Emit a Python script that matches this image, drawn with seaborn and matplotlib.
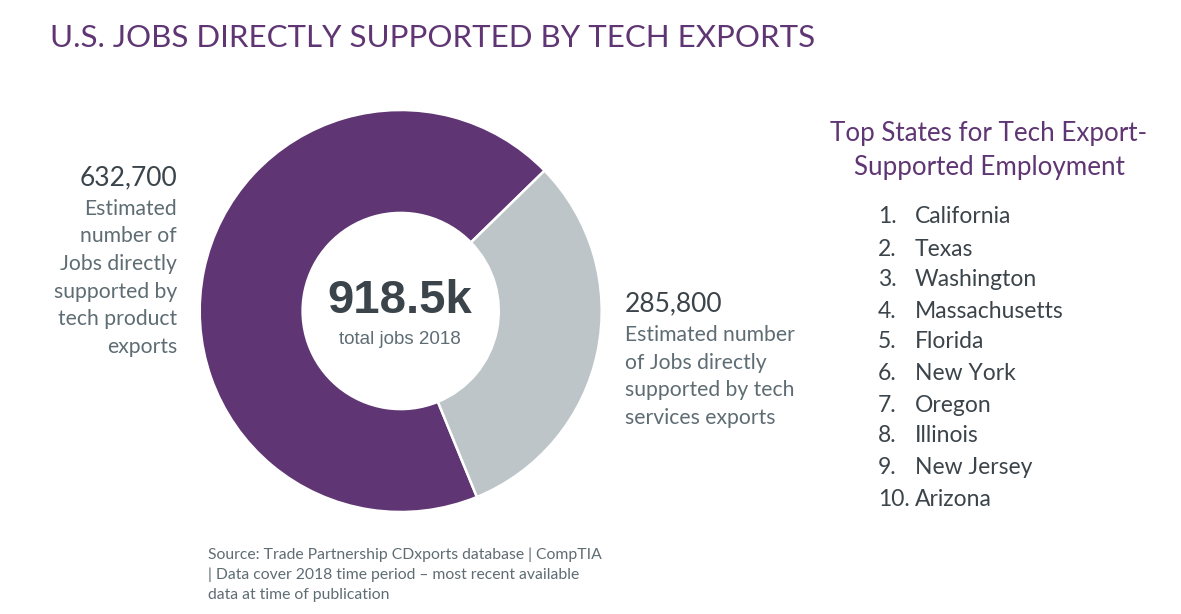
# plot.py

import matplotlib
matplotlib.use('Agg')
import matplotlib.pyplot as plt
import seaborn as sns

segments = ['Tech product exports', 'Tech services exports']
jobs = [632700, 285800]
states = ['California', 'Texas', 'Washington', 'Massachusetts', 'Florida',
          'New York', 'Oregon', 'Illinois', 'New Jersey', 'Arizona']
product_lines = ['Estimated', 'number of', 'Jobs directly', 'supported by', 'tech product', 'exports']
service_lines = ['Estimated number', 'of Jobs directly', 'supported by tech', 'services exports']
source_lines = ['Source: Trade Partnership CDxports database | CompTIA',
                '| Data cover 2018 time period – most recent available',
                'data at time of publication']

W, H = 1181, 614
PURPLE = '#5F3673'
GREY = '#BDC5C8'
DARK = '#3B444A'
MID = '#5E6C73'

sns.set_theme(style='white')
plt.rcParams['font.family'] = ['Lato', 'DejaVu Sans']

fig = plt.figure(figsize=(W / 100, H / 100), dpi=100)


def put(x, y, s, size, color=MID, ha='left', **kw):
    # x, y in pixels from the top left corner
    fig.text(x / W, 1 - y / H, s, fontsize=size, color=color, ha=ha, va='center', **kw)


# donut
cx, cy, r = 400.7, 311, 201
ax = fig.add_axes([(cx - r) / W, 1 - (cy + r) / H, 2 * r / W, 2 * r / H])
ax.pie(jobs, colors=[PURPLE, GREY], startangle=44.3, radius=1,
       wedgeprops={'width': 0.512, 'edgecolor': 'white', 'linewidth': 1.8})
ax.set_xlim(-1, 1)
ax.set_ylim(-1, 1)

put(50, 38, 'U.S. JOBS DIRECTLY SUPPORTED BY TECH EXPORTS', 22.5, color=PURPLE)

put(400, 301, '918.5k', 34, color=DARK, ha='center', family='Liberation Sans', weight='bold')
put(400, 339, 'total jobs 2018', 13.5, ha='center', family='Liberation Sans')

# left block
put(177, 178, f'{jobs[0]:,}', 19, color=DARK, ha='right')
for y, line in zip([209, 236, 264, 292, 319, 347], product_lines):
    put(177, y, line, 15.2, ha='right')

# right block
put(625, 304, f'{jobs[1]:,}', 19, color=DARK)
for y, line in zip([335, 363, 390, 418], service_lines):
    put(625, y, line, 15.2)

# top states
put(989, 134, 'Top States for Tech Export-', 18.7, color=PURPLE, ha='center')
put(989, 168, 'Supported Employment', 18.7, color=PURPLE, ha='center')
state_y = [217, 249, 280, 311, 342, 374, 405, 436, 467, 499]
for i, (y, name) in enumerate(zip(state_y, states)):
    put(878, y, f'{i + 1}.', 16.5, color=DARK)
    put(915, y, name, 16.5, color=DARK)

for y, line in zip([555, 575, 595], source_lines):
    put(208, y, line, 11.3)

fig.savefig('out.png', dpi=100)
